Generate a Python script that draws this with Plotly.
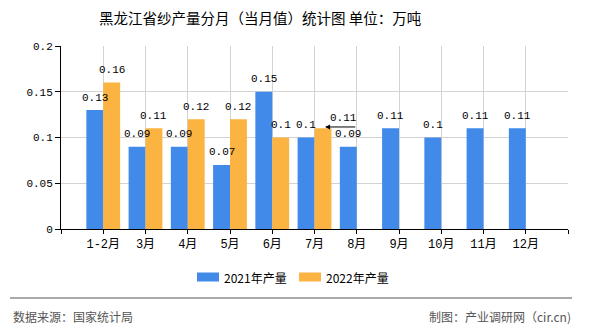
import plotly.graph_objects as go

# ---------------- data ----------------
categories = ["1-2月", "3月", "4月", "5月", "6月", "7月", "8月", "9月", "10月", "11月", "12月"]
series_names = ["2021年产量", "2022年产量"]
prod_2021 = [0.13, 0.09, 0.09, 0.07, 0.15, 0.10, 0.09, 0.11, 0.10, 0.11, 0.11]
prod_2022 = [0.16, 0.11, 0.12, 0.12, 0.10, 0.11, None, None, None, None, None]
y_tick_vals = [0, 0.05, 0.1, 0.15, 0.2]
y_tick_text = ["0", "0.05", "0.1", "0.15", "0.2"]
title_text = "黑龙江省纱产量分月（当月值）统计图 单位：万吨"
source_text = "数据来源：国家统计局"
credit_text = "制图：产业调研网（cir.cn)"

# ---------------- style ----------------
W, H = 590, 330
L, R, T, B = 61, 22, 46, 101
PW, PH = W - L - R, H - T - B
colors = ["#418AEA", "#FBB342"]
grid = "#D3D3D3"
mono = "Liberation Mono, DejaVu Sans Mono, Noto Sans CJK SC, monospace"
cjk = "Noto Sans CJK SC, sans-serif"


def px(xp):
    return (xp - L) / PW


def py(yp):
    return (H - B - yp) / PH


n = len(categories)
xs = list(range(n))

fig = go.Figure()
for name, vals, col in zip(series_names, [prod_2021, prod_2022], colors):
    fig.add_trace(go.Bar(x=xs, y=vals, name=name, marker=dict(color=col, line=dict(width=0)),
                         showlegend=False, hoverinfo="skip"))

annotations = []
offsets = [-0.2, 0.2]
special = (1, 5)  # 2022, 7月 label drawn with leader arrow
for s, vals in enumerate([prod_2021, prod_2022]):
    for i, v in enumerate(vals):
        if v is None:
            continue
        if (s, i) == special:
            continue
        annotations.append(dict(x=i + offsets[s], y=v, xref="x", yref="y", text=f"{v:g}",
                                showarrow=False, yshift=12.5, yanchor="middle",
                                font=dict(family=mono, size=11, color="#000")))

# leader-line label
si, ii = special
vv = [prod_2021, prod_2022][si][ii]
annotations.append(dict(x=ii + 0.25, y=vv + 0.0015, xref="x", yref="y", ax=ii + 1.0, ay=vv + 0.0015,
                        axref="x", ayref="y", text="", showarrow=True, arrowhead=2, arrowsize=1,
                        arrowwidth=1, arrowcolor="#000", standoff=0, startstandoff=0))
annotations.append(dict(x=ii + 0.68, y=vv + 0.0115, xref="x", yref="y", text=f"{vv:g}",
                        showarrow=False, yanchor="middle",
                        font=dict(family=mono, size=11, color="#000")))

# title
annotations.append(dict(x=px(260), y=py(17), xref="paper", yref="paper", text=title_text,
                        showarrow=False, xanchor="center", yanchor="middle",
                        font=dict(family=cjk, size=14.5, color="#000")))

# manual legend
shapes = []
leg_x = [197, 299]
for k, (name, col) in enumerate(zip(series_names, colors)):
    shapes.append(dict(type="rect", xref="paper", yref="paper",
                       x0=px(leg_x[k]), x1=px(leg_x[k] + 22), y0=py(281.5), y1=py(272.5),
                       fillcolor=col, line=dict(width=0)))
    annotations.append(dict(x=px(leg_x[k] + 25), y=py(277), xref="paper", yref="paper", text=name,
                            showarrow=False, xanchor="left", yanchor="middle",
                            font=dict(family=cjk, size=12, color="#000")))

# footer
shapes.append(dict(type="line", xref="paper", yref="paper", x0=px(10), x1=px(572),
                   y0=py(298), y1=py(298), line=dict(color="#8C8C8C", width=1.5)))
annotations.append(dict(x=px(11), y=py(316), xref="paper", yref="paper", text=source_text,
                        showarrow=False, xanchor="left", yanchor="middle",
                        font=dict(family=cjk, size=12, color="#555")))
annotations.append(dict(x=px(573), y=py(316), xref="paper", yref="paper", text=credit_text,
                        showarrow=False, xanchor="right", yanchor="middle",
                        font=dict(family=cjk, size=12, color="#555")))

fig.update_layout(
    width=W, height=H,
    margin=dict(l=L, r=R, t=T, b=B, pad=0),
    paper_bgcolor="#fff", plot_bgcolor="#fff",
    barmode="group", bargap=0.2, bargroupgap=0,
    showlegend=False,
    annotations=annotations, shapes=shapes,
    xaxis=dict(range=[-1, n], tickvals=list(range(-1, n + 1)),
               ticktext=[""] + categories + [""],
               showgrid=True, gridcolor=grid, gridwidth=1,
               showline=True, linecolor="#000", linewidth=1,
               ticks="outside", ticklen=4, tickcolor="#000", zeroline=False,
               tickfont=dict(family=mono, size=12, color="#000")),
    yaxis=dict(range=[0, 0.2], tickvals=y_tick_vals, ticktext=y_tick_text,
               showgrid=True, gridcolor=grid, gridwidth=1,
               showline=True, linecolor="#000", linewidth=1,
               ticks="outside", ticklen=5, tickcolor="#000", zeroline=False,
               tickfont=dict(family=mono, size=11, color="#000")),
)

fig.write_html("out.html")
